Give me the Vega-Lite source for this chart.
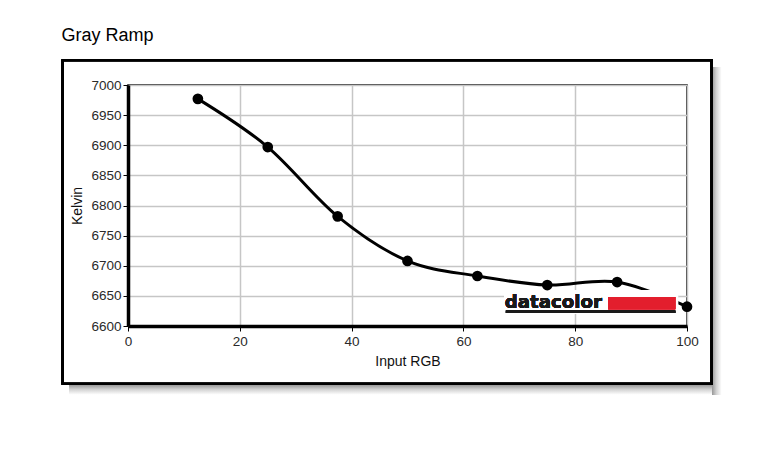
{
  "$schema": "https://vega.github.io/schema/vega-lite/v6.json",
  "autosize": {"type": "none"},
  "width": 559,
  "height": 241,
  "padding": {"left": 128, "top": 85, "right": 75, "bottom": 123},
  "background": "white",
  "title": {
    "text": "Gray Ramp",
    "anchor": "start",
    "frame": "bounds",
    "font": "Liberation Sans",
    "fontSize": 18,
    "fontWeight": "normal",
    "color": "#000000",
    "offset": 14
  },
  "config": {
    "view": {"stroke": "#000000", "strokeWidth": 1.5},
    "axis": {
      "labelFont": "Liberation Sans",
      "labelFontSize": 13.5,
      "labelColor": "#2a2a2a",
      "titleFont": "Liberation Sans",
      "titleFontSize": 14,
      "titleFontWeight": "normal",
      "titleColor": "#111111",
      "domainColor": "#000000",
      "domainWidth": 3.5,
      "tickColor": "#000000",
      "tickSize": 5,
      "tickWidth": 1,
      "gridColor": "#c6c6c6",
      "gridWidth": 1.5,
      "gridOpacity": 1
    }
  },
  "data": {
    "values": [
      {"input": 12.5, "kelvin": 6977},
      {"input": 25, "kelvin": 6897},
      {"input": 37.5, "kelvin": 6782},
      {"input": 50, "kelvin": 6708},
      {"input": 62.5, "kelvin": 6683},
      {"input": 75, "kelvin": 6668},
      {"input": 87.5, "kelvin": 6673},
      {"input": 100, "kelvin": 6632}
    ]
  },
  "encoding": {
    "x": {
      "field": "input",
      "type": "quantitative",
      "scale": {"domain": [0, 100], "nice": false, "zero": false},
      "axis": {"title": "Input RGB", "values": [0, 20, 40, 60, 80, 100], "format": "d", "labelPadding": 3, "titlePadding": 7, "labelFlush": false}
    },
    "y": {
      "field": "kelvin",
      "type": "quantitative",
      "scale": {"domain": [6600, 7000], "nice": false, "zero": false},
      "axis": {"title": "Kelvin", "values": [6600, 6650, 6700, 6750, 6800, 6850, 6900, 6950, 7000], "format": "d", "labelPadding": 2, "titlePadding": 6, "labelFlush": false}
    }
  },
  "layer": [
    {
      "mark": {"type": "rect", "fill": {"gradient": "linear", "x1": 0, "y1": 0, "x2": 0, "y2": 1, "stops": [{"offset": 0, "color": "#9a9a9a"}, {"offset": 0.45, "color": "#d2d2d2"}, {"offset": 1, "color": "#ffffff"}]}},
      "encoding": {
        "x": {"datum": -10.5, "type": "quantitative"},
        "x2": {"datum": 104.5},
        "y": {"datum": 6502, "type": "quantitative"},
        "y2": {"datum": 6486}
      }
    },
    {
      "mark": {"type": "rect", "fill": {"gradient": "linear", "x1": 0, "y1": 0, "x2": 1, "y2": 0, "stops": [{"offset": 0, "color": "#9a9a9a"}, {"offset": 0.45, "color": "#d2d2d2"}, {"offset": 1, "color": "#ffffff"}]}},
      "encoding": {
        "x": {"datum": 104.5, "type": "quantitative"},
        "x2": {"datum": 106.2},
        "y": {"datum": 7030, "type": "quantitative"},
        "y2": {"datum": 6486}
      }
    },
    {
      "mark": {"type": "rect", "filled": false, "stroke": "#000000", "strokeWidth": 2},
      "encoding": {
        "x": {"datum": -11.7, "type": "quantitative"},
        "x2": {"datum": 104.4},
        "y": {"datum": 7041, "type": "quantitative"},
        "y2": {"datum": 6504}
      }
    },
    {
      "mark": {"type": "line", "interpolate": "cardinal", "color": "#000000", "strokeWidth": 3}
    },
    {
      "mark": {"type": "rect", "fill": "#ffffff"},
      "encoding": {
        "x": {"datum": 67.3, "type": "quantitative"},
        "x2": {"datum": 98.4},
        "y": {"datum": 6659, "type": "quantitative"},
        "y2": {"datum": 6620}
      }
    },
    {
      "mark": {"type": "circle", "color": "#000000", "opacity": 1, "size": 115}
    },
    {
      "mark": {"type": "text", "text": "datacolor", "font": "DejaVu Sans", "fontSize": 18.2, "fontWeight": "bold", "color": "#1a1a1a", "align": "left", "baseline": "alphabetic"},
      "encoding": {
        "x": {"datum": 67.4, "type": "quantitative"},
        "y": {"datum": 6630, "type": "quantitative"}
      }
    },
    {
      "mark": {"type": "rect", "fill": "#e31e2d"},
      "encoding": {
        "x": {"datum": 85.9, "type": "quantitative"},
        "x2": {"datum": 97.9},
        "y": {"datum": 6648, "type": "quantitative"},
        "y2": {"datum": 6628}
      }
    },
    {
      "mark": {"type": "rule", "color": "#1a1a1a", "strokeWidth": 2.5},
      "encoding": {
        "x": {"datum": 67.6, "type": "quantitative"},
        "x2": {"datum": 97.9},
        "y": {"datum": 6623.5, "type": "quantitative"}
      }
    }
  ]
}
